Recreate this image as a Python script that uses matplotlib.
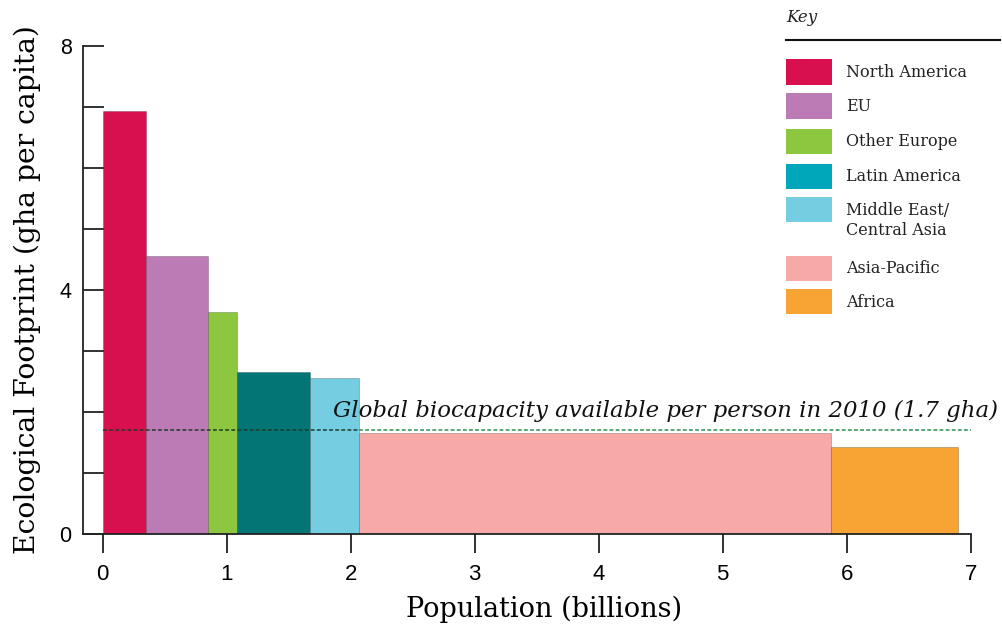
import matplotlib
matplotlib.use("Agg")
import matplotlib.pyplot as plt
from matplotlib.patches import Rectangle
from matplotlib.lines import Line2D
import numpy as np

regions = ["North America", "EU", "Other Europe", "Latin America",
           "Middle East/\nCentral Asia", "Asia-Pacific", "Africa"]
population = [0.347, 0.50, 0.236, 0.592, 0.393, 3.806, 1.024]   # billions (bar widths)
footprint = [6.93, 4.55, 3.63, 2.65, 2.55, 1.65, 1.42]          # gha per capita
bar_colors = ["#d81050", "#bd7bb5", "#8dc63f", "#037575", "#74cde0", "#f6a9a6", "#f8a435"]
key_colors = ["#d81050", "#bd7bb5", "#8dc63f", "#00a7bb", "#74cde0", "#f6a9a6", "#f8a435"]
biocapacity = 1.7
x_ticks = [0, 1, 2, 3, 4, 5, 6, 7]
y_ticks = list(range(0, 9))
y_labels = ["0", "", "", "", "4", "", "", "", "8"]

serif = ["DejaVu Serif"]
sans = ["Liberation Sans", "DejaVu Sans"]

W, H = 1002, 626
AX_L, AX_R, AX_T, AX_B = 82.7, 970.7, 45.7, 533.7
fig = plt.figure(figsize=(W / 100, H / 100), dpi=100)
ax = fig.add_axes([AX_L / W, 1 - AX_B / H, (AX_R - AX_L) / W, (AX_B - AX_T) / H])

lefts = np.concatenate([[0], np.cumsum(population)[:-1]])
ax.bar(lefts, footprint, width=population, align="edge", color=bar_colors,
       edgecolor=(0, 0, 0, 0.25), linewidth=0.6, zorder=2)

# biocapacity line: darker over first bars, green beyond
end_dark = lefts[5]
ax.plot([0, end_dark], [biocapacity, biocapacity], ls=(0, (2.5, 1.5)), color="#1d3b2a", lw=1.1, zorder=3)
ax.plot([end_dark, x_ticks[-1]], [biocapacity, biocapacity], ls=(0, (2.5, 1.5)), color="#2a8f4f", lw=1.1, zorder=3)
ax.text(7.22, biocapacity + 0.22, "Global biocapacity available per person in 2010 (1.7 gha)",
        ha="right", va="baseline", fontsize=16.5, style="italic", family=serif,
        color="#111111", clip_on=False, zorder=4)

ax.set_xlim(-20 / 124, 7)
ax.set_ylim(0, 8)
ax.spines["top"].set_visible(False)
ax.spines["right"].set_visible(False)
for s in ("left", "bottom"):
    ax.spines[s].set_linewidth(1.3)
    ax.spines[s].set_color("#222222")

ax.set_xticks(x_ticks)
ax.set_xticklabels([str(t) for t in x_ticks], family=sans, fontsize=16)
ax.set_yticks(y_ticks)
ax.set_yticklabels(y_labels, family=sans, fontsize=15.5)
ax.tick_params(axis="x", direction="out", length=14, width=1.3, color="#222222", pad=8)
ax.tick_params(axis="y", direction="in", length=15, width=1.3, color="#222222", pad=8)

ax.set_xlabel("Population (billions)", family=serif, fontsize=19.5, va="center")
ax.xaxis.set_label_coords(0.52, -(609 - AX_B) / (AX_B - AX_T))
ax.set_ylabel("Ecological Footprint (gha per capita)", family=serif, fontsize=20.3, va="center")
ax.yaxis.set_label_coords(-(AX_L - 27) / (AX_R - AX_L), 0.5)

# Key
fig.text(786 / W, 1 - 18 / H, "Key", family=serif, style="italic", fontsize=12,
         va="center", ha="left", color="#222222")
fig.add_artist(Line2D([786 / W, 1000 / W], [1 - 40 / H, 1 - 40 / H], color="#111111", lw=1.5))
row_y = [72, 106, 141, 176, 210, 268, 302]
for name, c, yc in zip(regions, key_colors, row_y):
    fig.add_artist(Rectangle((786 / W, 1 - (yc + 12.5) / H), 46 / W, 25 / H,
                             facecolor=c, edgecolor="none"))
    fig.text(846 / W, 1 - (yc - 8) / H, name, family=serif, fontsize=11.5, va="top",
             ha="left", color="#222222", linespacing=1.2)

fig.savefig("out.png", dpi=100)
